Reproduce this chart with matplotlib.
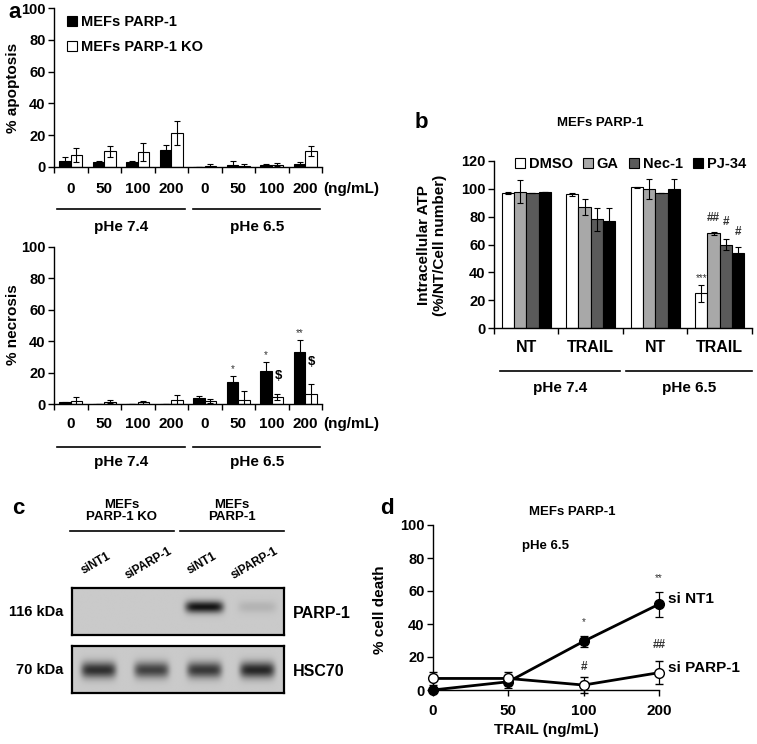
"""Four-panel figure: apoptosis/necrosis bars, ATP bars, western blot, cell-death lines."""
import numpy as np
import matplotlib
matplotlib.use("Agg")
import matplotlib.pyplot as plt
from matplotlib.transforms import blended_transform_factory as blend

W, H = 757, 744

# ---- panel a: % apoptosis / % necrosis (8 groups = 4 doses x 2 pHe)
DOSES = ["0", "50", "100", "200"]
PHE = ["pHe 7.4", "pHe 6.5"]
apop_wt = [4, 3, 3, 10.5, 0, 1, 1, 2]
apop_wt_err = [2.5, 0.5, 0.8, 3.5, 0, 2.5, 1, 1]
apop_ko = [7.5, 10, 9.5, 21.5, 0.5, 0.5, 1.5, 10]
apop_ko_err = [4.5, 3.5, 5.5, 7.5, 1.5, 1.5, 1, 3]
necr_wt = [1, 0, 0, 0.3, 4, 14, 21, 33]
necr_wt_err = [0.5, 0, 0, 0, 1, 4, 6, 8]
necr_ko = [2, 1.5, 1, 2.5, 2, 2.5, 4.5, 6.5]
necr_ko_err = [2.5, 1, 1, 3, 1.5, 5.5, 2, 6.5]

# ---- panel b: intracellular ATP
ATP_GROUPS = ["NT", "TRAIL", "NT", "TRAIL"]
ATP_TREAT = ["DMSO", "GA", "Nec-1", "PJ-34"]
ATP_COLORS = ["white", "#a8a8a8", "#5a5a5a", "black"]
atp_dmso = [97, 96, 101, 25]
atp_dmso_err = [1, 1, 0.5, 6]
atp_ga = [98, 87, 100, 68]
atp_ga_err = [8, 6, 7, 1]
atp_nec1 = [97, 78, 97, 60]
atp_nec1_err = [0, 8, 0, 4]
atp_pj34 = [98, 77, 100, 54]
atp_pj34_err = [0, 9, 7, 4]

# ---- panel c: blot band intensities per lane
LANES = ["siNT1", "siPARP-1", "siNT1", "siPARP-1"]
parp1_band = [0, 0, 1.0, 0.12]
hsc70_band = [0.85, 0.75, 0.8, 0.9]

# ---- panel d: % cell death
TRAIL_DOSES = ["0", "50", "100", "200"]
death_sint1 = [0, 5, 29.5, 52]
death_sint1_err = [0, 4, 3.5, 7.5]
death_siparp = [7, 7, 3, 10.5]
death_siparp_err = [4, 4, 5, 7]

plt.rcParams.update({
    "font.family": ["Liberation Sans", "DejaVu Sans"],
    "font.weight": "bold",
    "axes.labelweight": "bold",
    "font.size": 10.5,
    "axes.linewidth": 1.0,
    "xtick.major.size": 4, "ytick.major.size": 4,
    "xtick.major.width": 1.0, "ytick.major.width": 1.0,
    "ytick.major.pad": 2,
})

fig = plt.figure(figsize=(W / 100, H / 100), dpi=100)


def px_axes(l, t, r, b):
    return fig.add_axes([l / W, 1 - b / H, (r - l) / W, (b - t) / H])


def fy(y):
    return 1 - y / H


def ftext(x, y, s, **kw):
    fig.text(x / W, fy(y), s, **kw)


def clean(ax):
    ax.spines["top"].set_visible(False)
    ax.spines["right"].set_visible(False)


ERR = dict(ecolor="black", elinewidth=0.8, capsize=2.5, capthick=0.8)


def death_bars(ax, wt, wt_err, ko, ko_err, label_y, line_y, phe_y):
    x = np.arange(8)
    w = 0.34
    ax.bar(x - w / 2, wt, w, yerr=wt_err, color="black", edgecolor="black",
           lw=0.8, error_kw=ERR, label="MEFs PARP-1")
    ax.bar(x + w / 2, ko, w, yerr=ko_err, color="white", edgecolor="black",
           lw=0.8, error_kw=ERR, label="MEFs PARP-1 KO")
    ax.set_xlim(-0.5, 7.5)
    ax.set_ylim(0, 100)
    ax.set_yticks(range(0, 101, 20))
    ax.set_xticks(np.arange(-0.5, 8, 1))
    ax.set_xticklabels([])
    clean(ax)
    tr = blend(ax.transData, fig.transFigure)
    for i, d in enumerate(DOSES * 2):
        ax.text(i, fy(label_y), d, transform=tr, ha="center", va="center",
                fontsize=11)
    ax.text(7.55, fy(label_y), "(ng/mL)", transform=tr, ha="left", va="center",
            fontsize=11)
    for k, (x0, x1) in enumerate([(-0.4, 3.4), (3.65, 7.45)]):
        ax.plot([x0, x1], [fy(line_y)] * 2, transform=tr, color="black",
                lw=1.2, clip_on=False)
        ax.text((x0 + x1) / 2, fy(phe_y), PHE[k], transform=tr,
                ha="center", va="center", fontsize=11)


# panel a, apoptosis
ax_ap = px_axes(54, 8, 322, 167)
death_bars(ax_ap, apop_wt, apop_wt_err, apop_ko, apop_ko_err, 189, 209, 227)
ax_ap.legend(loc="upper left", bbox_to_anchor=(0.025, 0.99), frameon=False,
             handlelength=0.7, handleheight=0.7, handletextpad=0.3,
             labelspacing=0.75, fontsize=10.5, borderaxespad=0)
ftext(13, 88, "% apoptosis", rotation=90, ha="center", va="center", fontsize=11)
ftext(8, 13, "a", fontsize=16, ha="left", va="center")

# panel a, necrosis
ax_ne = px_axes(54, 247, 322, 404)
death_bars(ax_ne, necr_wt, necr_wt_err, necr_ko, necr_ko_err, 424, 447, 462)
ftext(13, 325, "% necrosis", rotation=90, ha="center", va="center", fontsize=11)
for xi, yi, s in [(5 - 0.17, 22, "*"), (6 - 0.17, 31, "*"), (7 - 0.17, 45, "**")]:
    ax_ne.text(xi, yi, s, ha="center", va="center", fontsize=7,
               fontweight="normal", color="#333333")
for xi, yi in [(6.2, 18), (7.2, 27)]:
    ax_ne.text(xi, yi, "$", ha="center", va="center", fontsize=9.5)

# panel b
ax_b = px_axes(494, 161, 752, 328)
xb = np.arange(4)
wb = 0.19
series = [(atp_dmso, atp_dmso_err), (atp_ga, atp_ga_err),
          (atp_nec1, atp_nec1_err), (atp_pj34, atp_pj34_err)]
for k, (vals, errs) in enumerate(series):
    ax_b.bar(xb + (k - 1.5) * wb, vals, wb, yerr=errs, color=ATP_COLORS[k],
             edgecolor="black", lw=0.8, error_kw=ERR, label=ATP_TREAT[k])
ax_b.set_xlim(-0.5, 3.5)
ax_b.set_ylim(0, 120)
ax_b.set_yticks(range(0, 121, 20))
ax_b.set_xticks(np.arange(-0.5, 4, 1))
ax_b.set_xticklabels([])
clean(ax_b)
ax_b.legend(loc="upper right", bbox_to_anchor=(1.0, 1.06), ncol=4, frameon=False,
            handlelength=0.7, handleheight=0.7, handletextpad=0.25,
            columnspacing=0.7, fontsize=10.5, borderaxespad=0)
trb = blend(ax_b.transData, fig.transFigure)
for i, g in enumerate(ATP_GROUPS):
    ax_b.text(i, fy(348), g, transform=trb, ha="center", va="center", fontsize=11.5)
for k, (x0, x1) in enumerate([(-0.4, 1.45), (1.55, 3.5)]):
    ax_b.plot([x0, x1], [fy(371)] * 2, transform=trb, color="black", lw=1.2,
              clip_on=False)
    ax_b.text((x0 + x1) / 2, fy(388), PHE[k], transform=trb, ha="center",
              va="center", fontsize=11)
for xi, yi, s, fs in [(3 - 1.5 * wb, 36, "***", 7), (3 - 0.5 * wb, 79, "##", 8.5),
                      (3 + 0.5 * wb, 76, "#", 8.5), (3 + 1.5 * wb, 69, "#", 8.5)]:
    ax_b.text(xi, yi, s, ha="center", va="center", fontsize=fs,
              fontweight="normal" if s == "***" else "bold", color="#333333")
ftext(432, 245, "Intracellular ATP\n(%/NT/Cell number)", rotation=90,
      ha="center", va="center", fontsize=11, linespacing=1.1)
ftext(600, 123, "MEFs PARP-1", ha="center", va="center", fontsize=9.5)
ftext(415, 123, "b", fontsize=16, ha="left", va="center")


# panel c, blot
def blot(ax, bands, yc, half_h, width):
    xs = np.linspace(-0.5, 3.5, 400)
    ys = np.linspace(0, 1, 60)
    X, Y = np.meshgrid(xs, ys)
    img = np.full(X.shape, 0.79)
    for i, a in enumerate(bands):
        prof = np.exp(-((X - i) / width) ** 6) * np.exp(-((Y - yc) / half_h) ** 2)
        img -= (0.79 - 0.08) * a * prof
    ax.imshow(img, cmap="gray", vmin=0, vmax=1, extent=(-0.5, 3.5, 0, 1),
              origin="lower", aspect="auto", interpolation="bilinear")
    ax.set_xticks([])
    ax.set_yticks([])
    for s in ax.spines.values():
        s.set_linewidth(1.6)


ax_c1 = px_axes(72, 588, 284, 635)
blot(ax_c1, parp1_band, 0.6, 0.13, 0.36)
ax_c2 = px_axes(72, 646, 284, 693)
blot(ax_c2, hsc70_band, 0.48, 0.17, 0.33)
trc = blend(ax_c1.transData, fig.transFigure)
for k, (x0, x1, head) in enumerate([(-0.54, 1.42, "MEFs\nPARP-1 KO"),
                                    (1.54, 3.5, "MEFs\nPARP-1")]):
    ax_c1.plot([x0, x1], [fy(531)] * 2, transform=trc, color="black", lw=1.2,
               clip_on=False)
    ax_c1.text((x0 + x1) / 2, fy(511), head, transform=trc, ha="center",
               va="center", fontsize=9.5, linespacing=1.0)
for i, lane in enumerate(LANES):
    ax_c1.text(i - 0.05, fy(563), lane, transform=trc, ha="center", va="center",
               rotation=30, rotation_mode="anchor", fontsize=8.5)
ax_c1.set_xlim(-0.5, 3.5)
ax_c1.set_ylim(0, 1)
ftext(63, 612, "116 kDa", ha="right", va="center")
ftext(63, 670, "70 kDa", ha="right", va="center")
ftext(293, 613, "PARP-1", ha="left", va="center", fontsize=11.5)
ftext(293, 671, "HSC70", ha="left", va="center", fontsize=11.5)
ftext(12, 508, "c", fontsize=16, ha="left", va="center")

# panel d
ax_d = px_axes(433, 525, 659, 690)
xd = np.arange(4)
ax_d.errorbar(xd, death_sint1, yerr=death_sint1_err, color="black", lw=2,
              marker="o", ms=7, mfc="black", mec="black", capsize=3,
              elinewidth=0.9, capthick=0.9, clip_on=False, zorder=3)
ax_d.errorbar(xd, death_siparp, yerr=death_siparp_err, color="black", lw=2,
              marker="o", ms=7, mfc="white", mec="black", mew=1.0, capsize=3,
              elinewidth=0.9, capthick=0.9, clip_on=False, zorder=4)
ax_d.set_xlim(0, 3)
ax_d.set_ylim(0, 100)
ax_d.set_yticks(range(0, 101, 20))
ax_d.set_xticks(xd)
ax_d.set_xticklabels(TRAIL_DOSES, fontsize=11)
ax_d.tick_params(axis="x", pad=6)
clean(ax_d)
ax_d.set_xlabel("TRAIL (ng/mL)", fontsize=11, labelpad=4)
ax_d.text(3.12, death_sint1[-1] + 3, "si NT1", ha="left", va="center", fontsize=11)
ax_d.text(3.12, death_siparp[-1] + 3, "si PARP-1", ha="left", va="center",
          fontsize=11)
ax_d.text(1.5, 87, "pHe 6.5", ha="center", va="center", fontsize=9.5)
for xi, yi, s in [(2, 41, "*"), (3, 68, "**")]:
    ax_d.text(xi, yi, s, ha="center", va="center", fontsize=7,
              fontweight="normal", color="#333333")
for xi, yi, s in [(2, 14, "#"), (3, 27, "##")]:
    ax_d.text(xi, yi, s, ha="center", va="center", fontsize=8.5, color="#333333")
ftext(380, 610, "% cell death", rotation=90, ha="center", va="center", fontsize=11)
ftext(572, 512, "MEFs PARP-1", ha="center", va="center", fontsize=9.5)
ftext(380, 508, "d", fontsize=16, ha="left", va="center")

fig.savefig("out.png", dpi=100)
